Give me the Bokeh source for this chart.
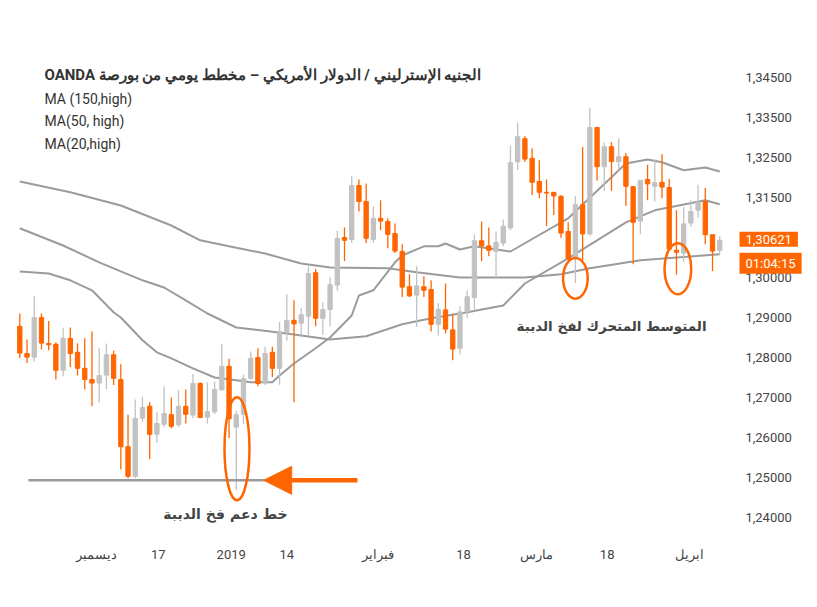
from bokeh.plotting import figure
from bokeh.models import Range1d, FixedTicker, Label, Arrow, NormalHead, ColumnDataSource
from bokeh.embed import file_html
from bokeh.resources import INLINE

# ---------------- data ----------------
open_ = [1.2828, 1.2760, 1.2751, 1.2850, 1.2785, 1.2783, 1.2718, 1.2798, 1.2763, 1.2723,
         1.2695, 1.2686, 1.2706, 1.2757, 1.2695, 1.2527, 1.2453, 1.2598, 1.2628, 1.2558,
         1.2583, 1.2607, 1.2582, 1.2628, 1.2606, 1.2685, 1.2601, 1.2614, 1.2669, 1.2728,
         1.2576, 1.2608, 1.2698, 1.2750, 1.2686, 1.2763, 1.2723, 1.2813, 1.2843, 1.2836,
         1.2853, 1.2962, 1.2848, 1.2870, 1.2931, 1.3050, 1.3045, 1.3180, 1.3140, 1.3045,
         1.3098, 1.3090, 1.3060, 1.3015, 1.2927, 1.2906, 1.2927, 1.2920, 1.2833, 1.2869,
         1.2819, 1.2773, 1.2865, 1.2900, 1.3042, 1.3029, 1.3015, 1.3036, 1.3074, 1.3239,
         1.3297, 1.3248, 1.3190, 1.3163, 1.3163, 1.3153, 1.3065, 1.2997, 1.3132, 1.3059,
         1.3325, 1.3227, 1.3277, 1.3240, 1.3252, 1.3177, 1.3091, 1.3195, 1.3178, 1.3188,
         1.3175, 1.3018, 1.3011, 1.3086, 1.3118, 1.3140, 1.3057, 1.3018]
high = [1.2860, 1.2795, 1.2903, 1.2860, 1.2841, 1.2788, 1.2823, 1.2825, 1.2785, 1.2798,
        1.2815, 1.2773, 1.2785, 1.2767, 1.2733, 1.2607, 1.2645, 1.2652, 1.2638, 1.2613,
        1.2678, 1.2650, 1.2668, 1.2670, 1.2709, 1.2688, 1.2688, 1.2690, 1.2784, 1.2747,
        1.2617, 1.2707, 1.2765, 1.2773, 1.2777, 1.2777, 1.2839, 1.2908, 1.2893, 1.2874,
        1.2978, 1.2971, 1.2888, 1.2950, 1.3066, 1.3075, 1.3203, 1.3195, 1.3185, 1.3128,
        1.3143, 1.3098, 1.3085, 1.3033, 1.2958, 1.2978, 1.2953, 1.2943, 1.2886, 1.2935,
        1.2859, 1.2878, 1.2918, 1.3058, 1.3090, 1.3075, 1.3065, 1.3095, 1.3280, 1.3337,
        1.3304, 1.3273, 1.3243, 1.3195, 1.3164, 1.3156, 1.3088, 1.3153, 1.3276, 1.3374,
        1.3326, 1.3288, 1.3288, 1.3298, 1.3261, 1.3178, 1.3193, 1.3232, 1.3245, 1.3258,
        1.3196, 1.3118, 1.3126, 1.3143, 1.3182, 1.3174, 1.3057, 1.3053]
low = [1.2748, 1.2736, 1.2740, 1.2770, 1.2768, 1.2695, 1.2703, 1.2726, 1.2705, 1.2670,
       1.2628, 1.2638, 1.2671, 1.2681, 1.2470, 1.2448, 1.2448, 1.2588, 1.2496, 1.2536,
       1.2576, 1.2573, 1.2576, 1.2585, 1.2599, 1.2598, 1.2585, 1.2609, 1.2667, 1.2549,
       1.2419, 1.2583, 1.2694, 1.2678, 1.2681, 1.2701, 1.2682, 1.2792, 1.2638, 1.2805,
       1.2806, 1.2828, 1.2806, 1.2828, 1.2917, 1.2991, 1.3036, 1.3115, 1.3036, 1.3036,
       1.3068, 1.3023, 1.3011, 1.2901, 1.2901, 1.2826, 1.2901, 1.2815, 1.2805, 1.2810,
       1.2743, 1.2758, 1.2849, 1.2870, 1.2991, 1.3003, 1.2946, 1.3028, 1.3068, 1.3219,
       1.3239, 1.3156, 1.3148, 1.3079, 1.3106, 1.3049, 1.2993, 1.2936, 1.2993, 1.3053,
       1.3192, 1.3166, 1.3167, 1.3217, 1.3129, 1.2983, 1.3058, 1.3143, 1.3140, 1.3148,
       1.3021, 1.2957, 1.2989, 1.3076, 1.3100, 1.3033, 1.2966, 1.3008]
close_ = [1.2761, 1.2751, 1.2850, 1.2786, 1.2782, 1.2718, 1.2798, 1.2760, 1.2723, 1.2695,
          1.2686, 1.2705, 1.2757, 1.2698, 1.2527, 1.2453, 1.2598, 1.2625, 1.2558, 1.2585,
          1.2610, 1.2578, 1.2628, 1.2608, 1.2685, 1.2600, 1.2615, 1.2670, 1.2728, 1.2597,
          1.2607, 1.2697, 1.2748, 1.2685, 1.2760, 1.2723, 1.2815, 1.2843, 1.2834, 1.2857,
          1.2960, 1.2848, 1.2870, 1.2932, 1.3048, 1.3043, 1.3180, 1.3140, 1.3048, 1.3098,
          1.3091, 1.3058, 1.3016, 1.2926, 1.2904, 1.2929, 1.2918, 1.2833, 1.2870, 1.2821,
          1.2771, 1.2864, 1.2902, 1.3042, 1.3029, 1.3018, 1.3038, 1.3078, 1.3237, 1.3302,
          1.3246, 1.3188, 1.3163, 1.3161, 1.3154, 1.3061, 1.2997, 1.3132, 1.3059, 1.3325,
          1.3227, 1.3277, 1.3240, 1.3252, 1.3178, 1.3088, 1.3193, 1.3184, 1.3187, 1.3176,
          1.3021, 1.3013, 1.3084, 1.3115, 1.3138, 1.3057, 1.3016, 1.3043]

# moving averages (candle index, price)
ma150_idx = [0, 7, 14, 21, 25, 29, 34, 39, 43, 51, 55, 61, 67, 70, 75, 79, 86, 97]
ma150 = [1.3190, 1.3163, 1.3130, 1.3080, 1.3043, 1.3028, 1.3010, 1.2985, 1.2975, 1.2973,
         1.2963, 1.2950, 1.2950, 1.2950, 1.2958, 1.2973, 1.2993, 1.3008]
ma50_idx = [0, 6, 11, 17, 20, 23, 26, 30, 37, 43, 48, 53, 57, 62, 67, 70, 76, 80, 84, 88, 95, 97]
ma50 = [1.3073, 1.3030, 1.2988, 1.2943, 1.2925, 1.2893, 1.2860, 1.2825, 1.2810, 1.2795, 1.2803,
        1.2833, 1.2848, 1.2863, 1.2880, 1.2935, 1.2998, 1.3043, 1.3088, 1.3118, 1.3143, 1.3133]
ma20_idx = [0, 4, 7, 10, 13, 14, 17, 19, 21, 24, 27, 30, 32, 35, 36, 38, 41, 43, 46, 47, 49, 52,
            53, 56, 58, 59, 61, 63, 68, 76, 84, 87, 89, 92, 95, 97]
ma20 = [1.2965, 1.2960, 1.2943, 1.2918, 1.2863, 1.2850, 1.2793, 1.2763, 1.2748, 1.2723, 1.2700,
        1.2693, 1.2688, 1.2688, 1.2705, 1.2735, 1.2773, 1.2800, 1.2855, 1.2905, 1.2918, 1.2988,
        1.3005, 1.3028, 1.3028, 1.3035, 1.3020, 1.3028, 1.3015, 1.3098, 1.3235, 1.3245, 1.3238,
        1.3218, 1.3225, 1.3215]

support_level = 1.2443

x_tick_pos = [10.6, 19.2, 29.3, 37, 49.6, 61.5, 71.6, 81.4, 92.8]
x_tick_labels = ["ديسمبر", "17", "2019", "14", "فبراير", "18", "مارس", "18", "ابريل"]

y_ticks = [1.345, 1.335, 1.325, 1.315, 1.295, 1.285, 1.275, 1.265, 1.255, 1.245, 1.235]
y_tick_labels = ["1,34500", "1,33500", "1,32500", "1,31500", "1,30000", "1,29000",
                 "1,28000", "1,27000", "1,26000", "1,25000", "1,24000"]

title_lines = ["OANDA الجنيه الإسترليني / الدولار الأمريكي – مخطط يومي من بورصة",
               "MA (150,high)", "MA(50, high)", "MA(20,high)"]
last_price_text = "1,30621"
countdown_text = "01:04:15"
support_text = "خط دعم فخ الدببة"
ma_text = "المتوسط المتحرك لفخ الدببة"

# ---------------- styling ----------------
ORANGE = "#ff6600"
GRAY = "#c2c2c2"
MA_COLOR = "#9b9b9b"
TEXT = "#444444"

# frame spans the whole width; the price axis is pinned inside it at the right
p = figure(width=817, height=607, output_backend="svg", toolbar_location=None,
           x_range=Range1d(-2.675, 110.55), y_range=Range1d(1.2305, 1.35925),
           y_axis_location="right",
           min_border_left=0, min_border_right=0, min_border_top=20, min_border_bottom=72)
p.outline_line_color = None
p.xgrid.visible = False
p.ygrid.visible = False
p.background_fill_color = "white"
p.border_fill_color = "white"

for ax in (p.xaxis, p.yaxis):
    ax.axis_line_color = None
    ax.major_tick_line_color = None
    ax.minor_tick_line_color = None
    ax.major_tick_out = 0
    ax.major_tick_in = 0
    ax.major_label_text_font = "Roboto"
    ax.major_label_text_font_size = "13px"
    ax.major_label_text_color = TEXT

p.yaxis.fixed_location = 98.9
p.yaxis.ticker = FixedTicker(ticks=y_ticks)
p.yaxis.major_label_overrides = {t: s for t, s in zip(y_ticks, y_tick_labels)}
p.yaxis.major_label_standoff = 12

p.xaxis.ticker = FixedTicker(ticks=x_tick_pos)
p.xaxis.major_label_overrides = {t: s for t, s in zip(x_tick_pos, x_tick_labels)}
p.xaxis.major_label_standoff = 11

# moving averages
for xs, ys in ((ma150_idx, ma150), (ma50_idx, ma50), (ma20_idx, ma20)):
    p.line(xs, ys, line_color=MA_COLOR, line_width=2)

# candles
idx = list(range(len(close_)))
colors = [GRAY if c >= o else ORANGE for o, c in zip(open_, close_)]
src = ColumnDataSource(dict(
    x=idx, high=high, low=low,
    top=[max(o, c) for o, c in zip(open_, close_)],
    bottom=[min(o, c) for o, c in zip(open_, close_)],
    color=colors))
p.segment(x0="x", y0="low", x1="x", y1="high", line_color="color", line_width=1.3, source=src)
p.vbar(x="x", width=0.6, top="top", bottom="bottom", fill_color="color",
       line_color="color", line_width=1, source=src)

# support line + arrow
p.line([1.2, 34.0], [support_level, support_level], line_color="#9a9a9a", line_width=2.5)
p.add_layout(Arrow(end=NormalHead(size=28, fill_color=ORANGE, line_color=ORANGE),
                   x_start=46.8, y_start=support_level, x_end=33.8, y_end=support_level,
                   line_color=ORANGE, line_width=4.5))

# ellipses marking the bear traps
p.ellipse(x=[30.1, 77.0, 91.2], y=[1.2522, 1.2948, 1.2972],
          width=[3.46, 3.42, 3.7], height=[0.02575, 0.0102, 0.0128],
          fill_color=None, line_color=ORANGE, line_width=2.5)

# annotation texts
p.add_layout(Label(x=28.5, y=1.2360, text=support_text, text_align="center",
                   text_baseline="middle", text_font="DejaVu Sans",
                   text_font_style="bold", text_font_size="14px", text_color=TEXT))
p.add_layout(Label(x=82, y=1.2830, text=ma_text, text_align="center",
                   text_baseline="middle", text_font="DejaVu Sans",
                   text_font_style="bold", text_font_size="13.5px", text_color=TEXT))

# title block (top-left)
title_y = [461, 437, 415, 392]
title_size = ["15px", "14px", "14px", "14px"]
for i, (t, ty, fs) in enumerate(zip(title_lines, title_y, title_size)):
    p.add_layout(Label(x=44, y=ty, x_units="screen", y_units="screen", text=t,
                       text_align="left", text_baseline="middle",
                       text_font="Roboto", text_font_size=fs,
                       text_font_style="bold" if i == 0 else "normal",
                       text_color="#333333"))

# last price / countdown boxes
pad = dict(left=6, right=6, top=3, bottom=3)
p.add_layout(Label(x=739, x_units="screen", y=close_[-1], y_offset=1, text=last_price_text,
                   text_align="left", text_baseline="middle", text_font="Roboto",
                   text_font_size="13px", text_color="white",
                   background_fill_color=ORANGE, padding=pad))
p.add_layout(Label(x=739, x_units="screen", y=close_[-1], y_offset=-23, text=countdown_text,
                   text_align="left", text_baseline="middle", text_font="Roboto",
                   text_font_size="13px", text_color="white",
                   background_fill_color=ORANGE, padding=pad))

open("out.html", "w").write(file_html(p, INLINE))
